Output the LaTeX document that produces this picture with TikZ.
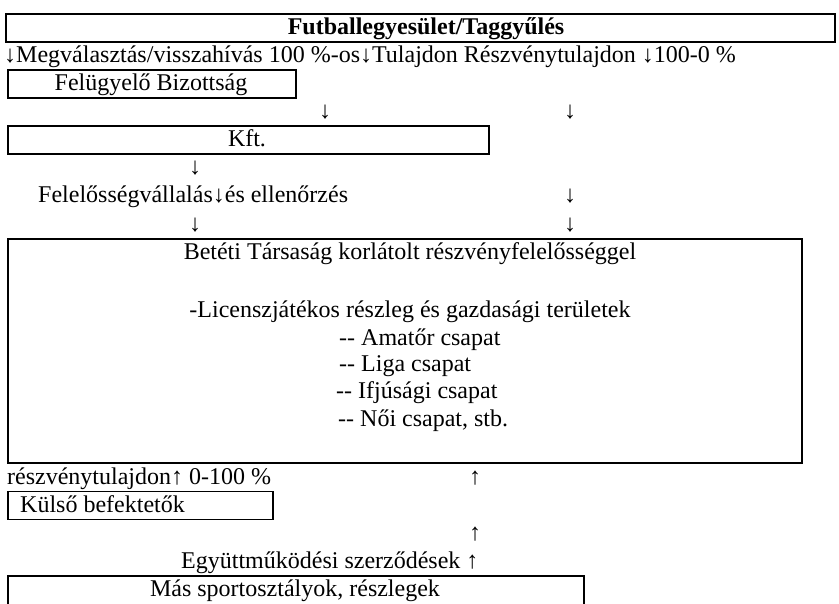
\documentclass[tikz,border=0pt]{standalone}
\usepackage{fontspec}
\setmainfont{Liberation Serif}
\newcommand\hyhy{\mbox{-}\mbox{-}}
\begin{document}
\begin{tikzpicture}[x=1pt,y=-1pt,
  box/.style={draw, line width=1.8pt, inner sep=0pt, anchor=north west},
  txt/.style={inner sep=0pt, font=\fontsize{24}{28}\selectfont},
  ltxt/.style={txt, anchor=base west},
  ctxt/.style={txt, anchor=base}]
\useasboundingbox (0,0) rectangle (839,604);
% boxes
\node[box, minimum width=829pt, minimum height=28pt] (top) at (5,13) {};
\node[ctxt, font=\fontsize{24}{28}\selectfont\bfseries] (toptxt) at (426,34.4) {Futballegyesület/Taggyűlés};
\node[ltxt] (l2) at (4,62.5) {↓Megválasztás/visszahívás 100 \%-os↓Tulajdon Részvénytulajdon ↓100-0 \%};
\node[box, minimum width=288pt, minimum height=28pt] (fb) at (7,69.1) {};
\node[ctxt] (fbtxt) at (151,90.6) {Felügyelő Bizottság};
\node[ctxt] (a1) at (325,118.7) {↓};
\node[ctxt] (a2) at (570,118.7) {↓};
\node[box, minimum width=481pt, minimum height=28pt] (kft) at (7,125.3) {};
\node[ctxt] (kfttxt) at (247,146.8) {Kft.};
\node[ctxt] (a3) at (195,174.9) {↓};
\node[ltxt] (fel) at (38,203) {Felelősségvállalás↓és ellenőrzés};
\node[ctxt] (a4) at (570,203) {↓};
\node[ctxt] (a5) at (195,231.1) {↓};
\node[ctxt] (a6) at (570,231.1) {↓};
\node[box, minimum width=794pt, minimum height=224pt] (bt) at (7,238) {};
\node[ctxt] (bt1) at (410,260) {Betéti Társaság korlátolt részvényfelelősséggel};
\node[ctxt] (bt2) at (410,318) {-Licenszjátékos részleg és gazdasági területek};
\node[ltxt] (bt3) at (339,345) {\hyhy{} Amatőr csapat};
\node[ltxt] (bt4) at (339,372) {\hyhy{} Liga csapat};
\node[ltxt] (bt5) at (336,399) {\hyhy{} Ifjúsági csapat};
\node[ltxt] (bt6) at (338,426) {\hyhy{} Női csapat, stb.};
\node[ltxt] (rt) at (7,484) {részvénytulajdon↑ 0-100 \%};
\node[ctxt] (a7) at (475,484) {↑};
\node[box, minimum width=265pt, minimum height=28pt] (kb) at (7,490.6) {};
\node[ltxt] (kbtxt) at (20,512.1) {Külső befektetők};
\node[ctxt] (a8) at (475,540.2) {↑};
\node[ltxt] (egy) at (181,568.3) {Együttműködési szerződések ↑};
\node[box, minimum width=576pt, minimum height=33pt] (ms) at (7,575) {};
\node[ctxt] (mstxt) at (295,596.4) {Más sportosztályok, részlegek};
\end{tikzpicture}
\end{document}
